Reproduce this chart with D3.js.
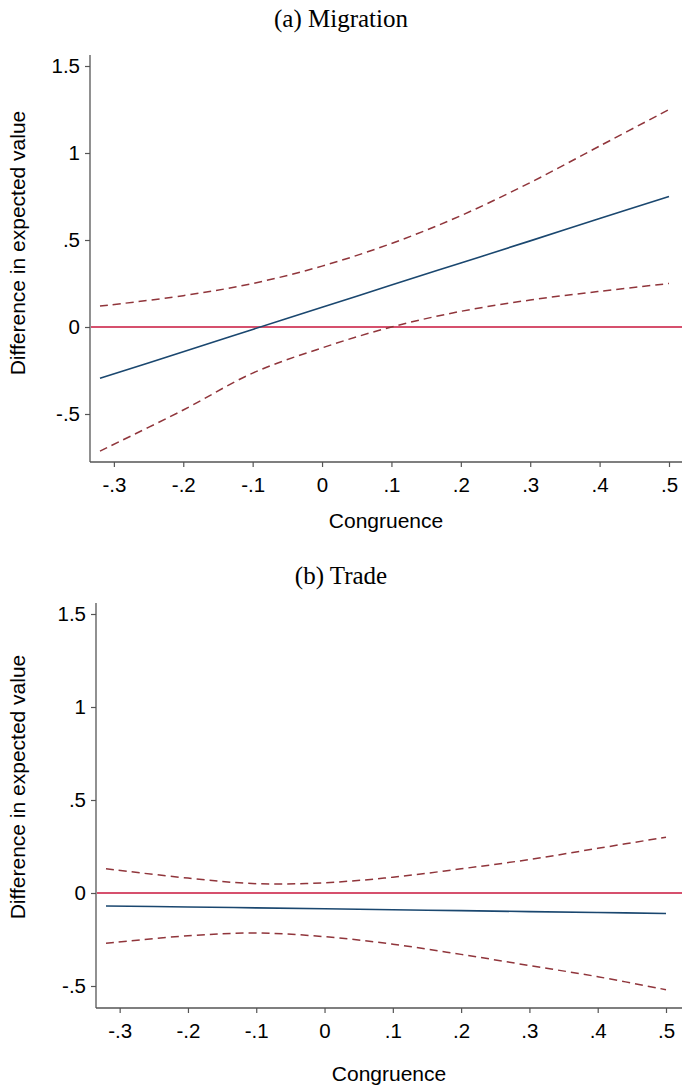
<!DOCTYPE html>
<html>
<head>
<meta charset="utf-8">
<script src="https://d3js.org/d3.v7.min.js"></script>
<style>
  body { margin: 0; background: #fff; }
  svg text { fill: #000; }
</style>
</head>
<body>
<div class="graph"></div>
<script>
// Marginal effect of congruence, two panels (Migration / Trade)

var width = 682;
var height = 1088;

// x values at which the curves were read
var congruence = [-0.32, -0.2, -0.1, 0, 0.1, 0.2, 0.3, 0.4, 0.5];

// panel (a) Migration
var migEstimate = [-0.295, -0.142, -0.014, 0.113, 0.241, 0.368, 0.495, 0.623, 0.75];
var migUpper = [0.12, 0.18, 0.25, 0.35, 0.48, 0.64, 0.83, 1.04, 1.25];
var migLower = [-0.713, -0.477, -0.265, -0.12, 0.0, 0.09, 0.155, 0.205, 0.25];

// panel (b) Trade
var tradeEstimate = [-0.07, -0.075, -0.08, -0.085, -0.09, -0.095, -0.1, -0.105, -0.11];
var tradeUpper = [0.13, 0.08, 0.05, 0.055, 0.085, 0.13, 0.18, 0.24, 0.30];
var tradeLower = [-0.27, -0.23, -0.215, -0.235, -0.275, -0.33, -0.39, -0.45, -0.52];

// tick labels
var xTicks = [-0.3, -0.2, -0.1, 0, 0.1, 0.2, 0.3, 0.4, 0.5];
var yTicks = [-0.5, 0, 0.5, 1, 1.5];

var blue = "#1a476f";
var maroon = "#90353b";
var red = "#c8163c";
var axisColor = "#555";
var sans = '"Liberation Sans", Arial, sans-serif';

var svg = d3.select('.graph').append('svg')
    .attr('width', width)
    .attr('height', height)
    .attr('viewBox', [0, 0, width, height]);

function stataFmt(v) {
    var s = String(+v.toFixed(2));
    return s.replace("0.", ".");
}

function drawPanel(p) {
    var g = svg.append('g');

    var xScale = d3.scaleLinear().domain([-0.32, 0.5]).range([p.x0, p.x1]);
    var yScale = d3.scaleLinear().domain([0, 0.5]).range([p.zeroY, p.zeroY - p.halfStep]);

    // title
    g.append('text')
        .attr('x', width / 2)
        .attr('y', p.titleY)
        .attr('text-anchor', 'middle')
        .style('font-family', '"Liberation Serif", "Times New Roman", serif')
        .style('font-size', '25px')
        .text(p.title);

    // y axis
    var yAxis = d3.axisLeft(yScale)
        .tickValues(yTicks)
        .tickFormat(stataFmt)
        .tickSize(5)
        .tickPadding(5)
        .tickSizeOuter(0);
    var ya = g.append('g')
        .attr('transform', 'translate(' + p.axisX + ',0)')
        .call(yAxis);
    ya.select('.domain').remove();
    ya.append('line')
        .attr('x1', 0).attr('x2', 0)
        .attr('y1', p.axisTop).attr('y2', p.axisBottom)
        .attr('stroke', axisColor).attr('stroke-width', 1.3);

    // x axis
    var xAxis = d3.axisBottom(xScale)
        .tickValues(xTicks)
        .tickFormat(stataFmt)
        .tickSize(5)
        .tickPadding(10)
        .tickSizeOuter(0);
    var xa = g.append('g')
        .attr('transform', 'translate(0,' + p.axisBottom + ')')
        .call(xAxis);
    xa.select('.domain').remove();
    xa.append('line')
        .attr('x1', p.axisX).attr('x2', width)
        .attr('y1', 0).attr('y2', 0)
        .attr('stroke', axisColor).attr('stroke-width', 1.3);

    [ya, xa].forEach(function(a) {
        a.selectAll('.tick line').attr('stroke', axisColor).attr('stroke-width', 1.2);
        a.selectAll('.tick text')
            .style('font-family', sans)
            .style('font-size', '20.5px')
            .attr('fill', '#000');
    });

    // axis titles
    g.append('text')
        .attr('x', (p.axisX + width) / 2)
        .attr('y', p.xTitleY)
        .attr('text-anchor', 'middle')
        .style('font-family', sans)
        .style('font-size', '21px')
        .text('Congruence');

    g.append('text')
        .attr('transform', 'translate(' + 25 + ',' + p.yTitleY + ') rotate(-90)')
        .attr('text-anchor', 'middle')
        .style('font-family', sans)
        .style('font-size', '21px')
        .text('Difference in expected value');

    // reference line at zero
    g.append('line')
        .attr('x1', p.axisX + 1).attr('x2', width)
        .attr('y1', yScale(0)).attr('y2', yScale(0))
        .attr('stroke', red).attr('stroke-width', 1.5);

    var line = d3.line()
        .x(function(d) { return xScale(d[0]); })
        .y(function(d) { return yScale(d[1]); })
        .curve(d3.curveCatmullRom.alpha(0.5));

    function series(vals) {
        return congruence.map(function(c, i) { return [c, vals[i]]; });
    }

    [p.upper, p.lower].forEach(function(vals) {
        g.append('path')
            .datum(series(vals))
            .attr('d', line)
            .attr('fill', 'none')
            .attr('stroke', maroon)
            .attr('stroke-width', 1.5)
            .attr('stroke-dasharray', '8,5');
    });

    g.append('path')
        .datum(series(p.estimate))
        .attr('d', line)
        .attr('fill', 'none')
        .attr('stroke', blue)
        .attr('stroke-width', 1.6);
}

drawPanel({
    title: '(a) Migration',
    titleY: 27,
    axisX: 90,
    x0: 100, x1: 669,
    zeroY: 327, halfStep: 87,
    axisTop: 55, axisBottom: 462,
    xTitleY: 528,
    yTitleY: 243,
    estimate: migEstimate, upper: migUpper, lower: migLower
});

drawPanel({
    title: '(b) Trade',
    titleY: 584,
    axisX: 96,
    x0: 106, x1: 666,
    zeroY: 893, halfStep: 93,
    axisTop: 603, axisBottom: 1008,
    xTitleY: 1081,
    yTitleY: 787,
    estimate: tradeEstimate, upper: tradeUpper, lower: tradeLower
});
</script>
</body>
</html>
